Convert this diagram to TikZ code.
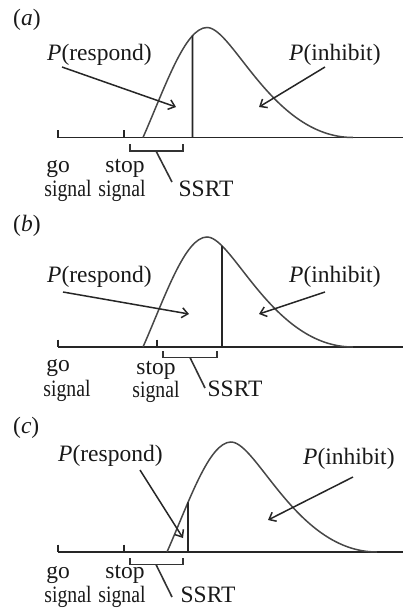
\documentclass[tikz,border=0pt]{standalone}
\usepackage{fontspec}
\setmainfont{Liberation Serif}
\usetikzlibrary{arrows.meta,intersections}
\newcommand{\sig}{\scalebox{0.84}[1]{signal}}
\begin{document}
\begin{tikzpicture}[x=1pt,y=-1pt,
  lbl/.style={inner sep=0pt,text=black!90,font=\fontsize{23.5}{26}\selectfont},
  axisline/.style={line width=1.8pt,draw=black!85},
  curveline/.style={line width=1.5pt,draw=black!72},
  splitline/.style={line width=1.7pt,draw=black!85},
  brack/.style={line width=1.6pt,draw=black!80},
  ptr/.style={line width=1.5pt,draw=black!85,-{Straight Barb[length=6pt,width=10pt,line width=1.5pt]}},
]
\useasboundingbox (0,0) rectangle (403,614);

% ---------- (a) ----------
\node[lbl,anchor=base west] (la) at (13,25) {(\textit{a})};
\coordinate (a0) at (58,137.5);
\coordinate (aE) at (403,137.5);
\draw[axisline] (a0) -- (aE);
\draw[axisline] (58,130) -- (58,137.5);
\draw[axisline] (124,130) -- (124,137.5);
\draw[curveline,name path=ca] (143,137.5) .. controls (165,87.5) and (185,27.5) .. (207,27.5)
  .. controls (233,27.5) and (273,137.5) .. (353,137.5);
\path[name path=va] (192.5,140) -- (192.5,0);
\draw[splitline,name intersections={of=ca and va}] (192.5,137.5) -- (intersection-1);
\draw[brack] (130,144) -- (130,151) -- (183,151) -- (183,144);
\coordinate (sa) at (156,151);
\node[lbl,anchor=base] (ssrta) at (206,196) {SSRT};
\draw[brack] (sa) -- (172,182);
\node[lbl,anchor=base] (goa) at (58,172) {go};
\node[lbl,anchor=base] (gsa) at (68,196) {\sig};
\node[lbl,anchor=base] (sta) at (125,172) {stop};
\node[lbl,anchor=base] (ssa) at (122,196) {\sig};
\node[lbl,anchor=base west] (ra) at (47,60) {\textit{P}(respond)};
\node[lbl,anchor=base west] (ia) at (289,60) {\textit{P}(inhibit)};
\coordinate (rta) at (176,107);
\coordinate (ita) at (259,107);
\draw[ptr] (62,67) -- (rta);
\draw[ptr] (325,67) -- (ita);

% ---------- (b) ----------
\node[lbl,anchor=base west] (lb) at (13,231) {(\textit{b})};
\coordinate (b0) at (58,347);
\coordinate (bE) at (403,347);
\draw[axisline] (b0) -- (bE);
\draw[axisline] (58,339.5) -- (58,347);
\draw[axisline] (157,339.5) -- (157,347);
\draw[curveline,name path=cb] (143,347) .. controls (165,297) and (185,237) .. (207,237)
  .. controls (233,237) and (273,347) .. (353,347);
\path[name path=vb] (222,350) -- (222,200);
\draw[splitline,name intersections={of=cb and vb}] (222,347) -- (intersection-1);
\draw[brack] (163,351) -- (163,357.5) -- (217,357.5) -- (217,351);
\coordinate (sb) at (190,357.5);
\node[lbl,anchor=base] (ssrtb) at (235,396) {SSRT};
\draw[brack] (sb) -- (205,388);
\node[lbl,anchor=base] (gob) at (58,371) {go};
\node[lbl,anchor=base] (gsb) at (67,396) {\sig};
\node[lbl,anchor=base] (stb) at (156,374) {stop};
\node[lbl,anchor=base] (ssb) at (156,397) {\sig};
\node[lbl,anchor=base west] (rb) at (47,282) {\textit{P}(respond)};
\node[lbl,anchor=base west] (ib) at (289,282) {\textit{P}(inhibit)};
\coordinate (rtb) at (189,314);
\coordinate (itb) at (259,314);
\draw[ptr] (63,292) -- (rtb);
\draw[ptr] (325,292) -- (itb);

% ---------- (c) ----------
\node[lbl,anchor=base west] (lc) at (13,433) {(\textit{c})};
\coordinate (c0) at (58,552);
\coordinate (cE) at (403,552);
\draw[axisline] (c0) -- (cE);
\draw[axisline] (58,544.5) -- (58,552);
\draw[axisline] (124,544.5) -- (124,552);
\draw[curveline,name path=cc] (167,552) .. controls (189,502) and (209,442) .. (231,442)
  .. controls (257,442) and (297,552) .. (377,552);
\path[name path=vc] (188,555) -- (188,400);
\draw[splitline,name intersections={of=cc and vc}] (188,552) -- (intersection-1);
\draw[brack] (130,558) -- (130,564.5) -- (183,564.5) -- (183,558);
\coordinate (sc) at (156,564.5);
\node[lbl,anchor=base] (ssrtc) at (208,602) {SSRT};
\draw[brack] (sc) -- (172,597);
\node[lbl,anchor=base] (goc) at (58,578) {go};
\node[lbl,anchor=base] (gsc) at (68,602) {\sig};
\node[lbl,anchor=base] (stc) at (125,578) {stop};
\node[lbl,anchor=base] (ssc) at (122,602) {\sig};
\node[lbl,anchor=base west] (rc) at (58,461) {\textit{P}(respond)};
\node[lbl,anchor=base west] (ic) at (303,464) {\textit{P}(inhibit)};
\coordinate (rtc) at (183,538);
\coordinate (itc) at (268,520);
\draw[ptr] (140,470) -- (rtc);
\draw[ptr] (353,477) -- (itc);
\end{tikzpicture}
\end{document}
